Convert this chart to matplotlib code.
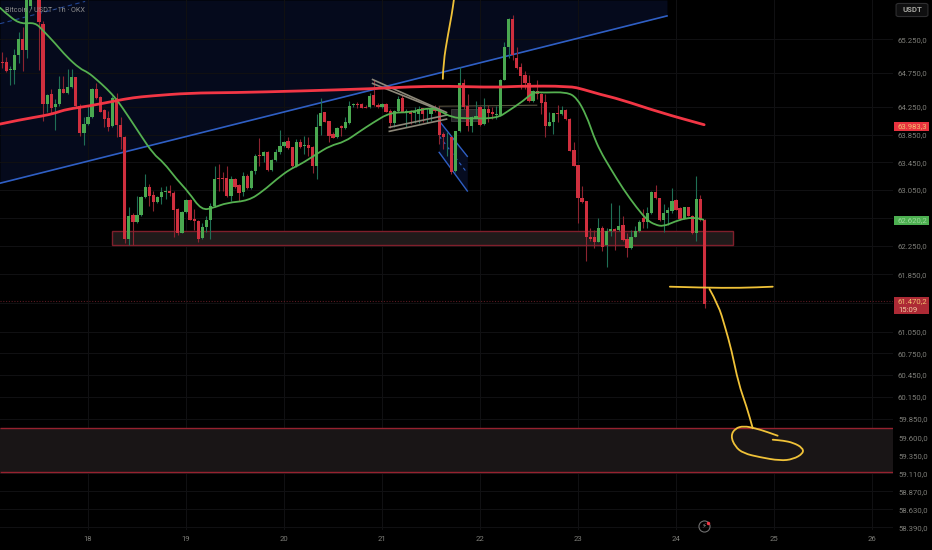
import numpy as np
import matplotlib
matplotlib.use('Agg')
import matplotlib.pyplot as plt
from matplotlib.patches import Rectangle, FancyBboxPatch, PathPatch
from matplotlib.path import Path

plt.rcParams['font.family'] = ['Roboto', 'DejaVu Sans']

#%% data: hourly candles, hour 0 is the start of day 18
first_hour = -21
opens = [64916,64916,64790,64800,65018,65259,65090,65742,66008,65873,65477,64293,64437,64259,64293,64510,64452,64549,64694,64268,
         63872,64003,64099,64510,64399,64205,64085,63969,64389,63988,63819,62354,62688,62586,62698,62949,63099,62973,62881,62954,
         63021,63036,63002,62780,62441,62736,62905,62635,62601,62359,62519,62625,62818,63215,63220,63229,62963,63205,63118,63021,
         63253,63084,63326,63553,63534,63601,63336,63485,63592,63679,63756,63664,63398,63746,63688,63703,63664,63398,63969,64172,
         64046,63858,63819,63978,63945,64017,64278,64302,64302,64259,64254,64423,64288,64259,64302,64191,64017,64196,64384,64181,
         64196,64162,64148,64235,64205,64148,64235,64210,63858,63824,63809,63321,63896,64597,64268,63978,64090,64254,64003,64220,
         64172,64138,64138,64655,65138,65559,64969,64834,64728,64607,64341,64481,64442,64326,63978,64036,64162,64148,64210,64075,
         63626,63408,62939,62886,62383,62374,62311,62504,62263,62470,62490,62480,62548,62345,62224,62383,62466,62649,62591,62722,
         63021,62939,62625,62722,62746,62901,62785,62649,62804,62683,62441,62925,62625]
highs = [65066,64993,64858,65100,65356,65438,66032,66040,66050,65950,65525,64437,64510,64365,64703,64703,64810,64810,64694,64293,
         64099,64268,64534,64607,64413,64220,64196,64413,64462,64099,63833,62809,62722,62963,62963,63278,63133,63036,62963,63099,
         63108,63118,63036,62794,62746,62915,62915,62780,62625,62577,62683,62867,63398,63423,63302,63398,63253,63215,63133,63302,
         63278,63336,63568,63795,63616,63616,63495,63640,63920,63761,63809,63664,63785,63785,63833,63809,63688,64148,64380,64181,
         64051,63882,63954,63988,64099,64341,64317,64326,64317,64278,64462,64655,64307,64307,64307,64220,64205,64413,64423,64220,
         64205,64259,64268,64244,64230,64259,64283,64268,63882,63882,63819,63906,64839,64665,64437,64114,64341,64268,64389,64278,
         64259,64268,64665,65211,65564,65612,65138,64897,64776,64728,64500,64655,64452,64437,64172,64162,64278,64268,64220,64085,
         63737,63408,63108,62896,62504,62480,62649,62528,62504,62857,62504,62828,62683,62441,62480,62538,62625,62780,62809,63036,
         63118,62939,62843,62809,63075,62925,62809,62809,62809,62698,63253,62973,62635]
lows = [64824,64771,64568,64583,64897,64776,64969,65694,65850,64800,64051,64172,64148,63920,64268,64452,64437,64534,64259,63833,
        63703,63988,64085,64375,64172,63954,63906,63954,63809,63640,62287,62263,62263,62577,62673,62939,62818,62746,62867,62843,
        62915,62963,62383,62408,62432,62722,62615,62480,62301,62350,62456,62350,62809,63036,63036,62954,62891,63084,62891,62963,
        63060,63070,63278,63398,63447,63326,63326,63471,63568,63664,63640,63384,63384,63655,63568,63543,63292,63205,63843,64027,
        63746,63795,63804,63833,63930,64003,64259,64244,64230,64230,64244,64268,64230,64230,64172,63940,63954,64172,64172,63954,
        64003,64017,64017,64036,64017,64051,64172,63713,63640,63543,63278,63311,63882,64220,63896,63882,64085,63978,63988,64027,
        64075,64075,64123,64645,64969,64945,64810,64520,64520,64326,64326,64365,64148,63819,63978,63858,64036,64138,64061,63606,
        63389,62577,62867,62045,62325,62229,62301,62180,61948,62393,62200,62470,62325,62093,62214,62374,62456,62504,62504,62712,
        62915,62601,62456,62553,62722,62760,62615,62635,62673,62422,62325,62601,61378]
closes = [64906,64781,64810,65018,65259,65090,65960,66008,65873,65501,64293,64428,64244,64293,64510,64452,64549,64694,64268,63872,
          64003,64099,64510,64389,64186,64075,63954,64389,63988,63819,62354,62683,62596,62698,62949,63094,62963,62881,62954,63026,
          63036,63002,62770,62432,62736,62905,62625,62601,62354,62519,62625,62818,63205,63205,63205,62963,63205,63099,63012,63253,
          63084,63326,63543,63534,63601,63336,63485,63592,63679,63746,63655,63398,63746,63664,63703,63655,63398,63954,64162,64036,
          63833,63804,63945,63945,64027,64268,64293,64288,64244,64244,64413,64278,64254,64293,64181,64017,64196,64375,64181,64196,
          64148,64172,64220,64148,64215,64220,64196,63843,63814,63833,63311,63896,64597,64259,63978,64099,64123,63993,64220,64157,
          64148,64148,64655,65138,65559,65018,64824,64713,64597,64341,64481,64437,64317,63978,64036,64157,64148,64205,64075,63616,
          63398,62939,62881,62374,62350,62311,62504,62238,62470,62490,62470,62538,62335,62224,62383,62466,62596,62586,62722,63021,
          62930,62625,62722,62756,62891,62770,62640,62804,62683,62441,62915,62615,61441]

# moving averages, sampled where the curve bends
ma_green_hours = [-21.5,-19,-16.25,-13,-11,-8,-5.25,-2,0,2.1,4.6,7,9.9,12.7,16,18.5,21.7,24.6,27.8,30.7,34,39.3,42.9,46.2,49.5,
                  51.9,56,59.3,62.9,66.2,69.9,74,78.9,83.8,86.2,89.1,92.7,100.1,103,106.6,109.1,111.5,117.2,119.7,122.1,123.8,
                  125.4,127.8,131.1,134.4,137,138.9,140.9,143.8,146.6,149.1,150.7]
ma_green = [65718,65573,65477,65501,65380,65187,64993,64815,64761,64655,64520,64365,64114,63858,63568,63447,63205,63021,62760,62794,
            62867,62896,63036,63205,63350,63413,63568,63688,63746,63882,64027,64172,64172,64244,64196,64099,64085,64085,64196,64341,
            64471,64462,64471,64389,64123,63833,63616,63374,63060,62794,62615,62553,62528,62601,62649,62649,62625]
ma_red_hours = [-21.55,-16.65,-10.9,-8.1,-5.2,0.5,6.6,11.1,15.2,25,35.6,51.9,69.9,78.9,87.8,100.1,105,118,121.3,125.4,130.3,140.1,150.9]
ma_red = [64003,64065,64123,64162,64220,64268,64341,64389,64413,64457,64462,64486,64520,64549,64558,64539,64558,64558,64510,64437,64365,64172,63993]

# drawings on the chart
channel_hours = [-21.55, 141.8]
channel_low = [63147, 65598]
channel_mid_hours = [-21.55, -0.7]
channel_mid = [65482, 65815]
zone1_hours = [5.9, 158]
zone1_prices = [62263, 62465]
zone2_prices = [59130, 59724]
triangle_lines = [([69.7,87.8],[64655,64172]), ([69.7,86.6],[64597,64195]), ([73.8,87.8],[63955,64133]), ([73.8,87.8],[63897,64075])]
flag_hours = [86, 92.9]
flag_top = [64050, 63534]
flag_mid = [63829, 63292]
flag_bot = [63592, 63035]
yellow_up_hours = [86.9,87,88.2,89.1,89.6]
yellow_up = [64665,64897,65332,65622,65836]
yellow_flat_hours = [142.5,150.6,159.7,167.7]
yellow_flat = [61677,61663,61659,61677]
yellow_down_hours = [152.2,154.4,156,157.6,159.3,161.3,162.8]
yellow_down = [61645,61421,61118,60794,60335,60015,59721]
yellow_loop_hours = [168.9,166.2,163.4,160.6,158.5,157.4,158.5,160.5,164.6,169.5,172.7,175.2,175,172.7,170.3,167.7]
yellow_loop = [59620,59674,59721,59752,59721,59616,59471,59382,59328,59282,59301,59382,59457,59525,59553,59566]

last_price = 61470.2
day_labels = ['18','19','20','21','22','23','24','25','26']
price_ticks = [65250,64750,64250,63850,63450,63050,62650,62250,61850,61450,61050,60750,60450,60150,59850,59600,59350,59110,58870,58630,58390]
hidden_ticks = [62650, 61450]   # sit under the price tags


def smooth_line(ax, xs, ys, **kw):
    # quadratic curve through the midpoints, the read values are the control points
    pts = list(zip(xs, ys))
    verts = [pts[0]]
    codes = [Path.MOVETO]
    for a, b in zip(pts[1:-1], pts[2:]):
        verts += [a, ((a[0]+b[0])/2, (a[1]+b[1])/2)]
        codes += [Path.CURVE3, Path.CURVE3]
    verts.append(pts[-1])
    codes.append(Path.LINETO)
    ax.add_patch(PathPatch(Path(verts, codes), fc='none', capstyle='round', joinstyle='round', **kw))


#%% chart
W, H = 932, 550
fig = plt.figure(figsize=(W/100, H/100), dpi=100, facecolor='black')
ax = fig.add_axes([0, 1-530/H, 893/W, 530/H], facecolor='black')
ax.set_yscale('log')
ax.set_xlim(-21.55, 197.15)
ax.set_ylim(58354, 65836)

# grid and axes
ax.set_yticks(price_ticks)
ax.set_yticklabels(['' if p in hidden_ticks else f'{p:,}'.replace(',', '.') + ',0' for p in price_ticks])
ax.yaxis.set_minor_locator(matplotlib.ticker.NullLocator())
ax.yaxis.tick_right()
ax.set_xticks(np.arange(9)*24)
ax.set_xticklabels(day_labels)
ax.tick_params(axis='both', length=0, colors='#7d7d78', labelsize=5.6)
ax.tick_params(axis='y', pad=3.6)
ax.tick_params(axis='x', pad=4.5)
ax.grid(True, color='#101012', lw=0.8)
ax.set_axisbelow(True)
for s in ax.spines.values():
    s.set_visible(False)

# channel
ax.fill_between(channel_hours, channel_low, 65836, color='#050a1c', lw=0, zorder=0.4)
ax.plot(channel_hours, channel_low, color='#2f5fc4', lw=1.2, zorder=2)
ax.plot(channel_mid_hours, channel_mid, color='#2f5fc4', lw=0.8, ls=(0, (4, 3)), alpha=0.7, zorder=2)

# demand zones
zone_col = '#7f1f2b'
ax.add_patch(Rectangle((zone1_hours[0], zone1_prices[0]), zone1_hours[1]-zone1_hours[0], zone1_prices[1]-zone1_prices[0],
                       fc='#201a1a', ec=zone_col, lw=1, zorder=2))
ax.fill_between([-21.55, 197.15], zone2_prices[0], zone2_prices[1], color='#191516', lw=0, zorder=2)
ax.hlines(zone2_prices, -21.55, 197.15, color='#96222f', lw=1, zorder=2)
ax.axhline(last_price, color='#5a1a22', lw=0.8, ls=(0, (1, 1.5)), zorder=2)

# flag and triangle behind the candles
ax.fill_between(flag_hours, flag_bot, flag_top, color='#060c20', lw=0, zorder=2)
ax.plot(flag_hours, flag_top, color='#2f5fc4', lw=1, zorder=2.5)
ax.plot(flag_hours, flag_bot, color='#2f5fc4', lw=1, zorder=2.5)
ax.plot(flag_hours, flag_mid, color='#2f5fc4', lw=0.8, ls=(0, (3, 3)), zorder=2.5)
ax.plot([86, 109.9], [64263, 64278], color='#57523f', lw=0.8, zorder=2.5)
ax.add_patch(Rectangle((88.9, 64046), 6.6, 181, fc='#26262a', ec='#3c3c3c', lw=0.6, zorder=2.2))

# candles
hours = first_hour + np.arange(len(opens))
opens, highs, lows, closes = map(np.array, (opens, highs, lows, closes))
up = closes >= opens
for mask, body, wick in ((up, '#4aa850', '#1f6f55'), (~up, '#cf2f3e', '#8c2430')):
    ax.vlines(hours[mask], lows[mask], highs[mask], color=wick, lw=0.8, zorder=3)
    ax.bar(hours[mask], np.abs(closes-opens)[mask], bottom=np.minimum(opens, closes)[mask], width=0.8,
           color=body, lw=0, zorder=3.2)

for xs, ys in triangle_lines:
    ax.plot(xs, ys, color='#8d8879', lw=1.2, zorder=3.5)

# moving averages
smooth_line(ax, ma_green_hours, ma_green, ec='#55b050', lw=1.3, zorder=4)
smooth_line(ax, ma_red_hours, ma_red, ec='#f23645', lw=2, zorder=4.2)

# hand drawn
for xs, ys in ((yellow_up_hours, yellow_up), (yellow_flat_hours, yellow_flat),
               (yellow_down_hours, yellow_down), (yellow_loop_hours, yellow_loop)):
    smooth_line(ax, xs, ys, ec='#f0c238', lw=1.3, zorder=5)

#%% things outside the price scale, placed in figure pixels
def fx(x):
    return x / W
def fy(y):
    return 1 - y / H

def tag(y0, y1, color):
    fig.add_artist(Rectangle((fx(894), fy(y1)), 35/W, (y1-y0)/H, fc=color, ec='none', transform=fig.transFigure, zorder=10))

tag(122, 131, '#e8323f')
tag(216, 225, '#4caf50')
tag(297, 314, '#ad2a35')
fig.text(fx(898), fy(126.5), '63.983,3', color='#f0c070', fontsize=5.6, va='center', zorder=11)
fig.text(fx(898), fy(220.5), '62.620,2', color='#9ad89a', fontsize=5.6, va='center', zorder=11)
fig.text(fx(898), fy(301.5), '61.470,2', color='#f0c070', fontsize=5.6, va='center', zorder=11)
fig.text(fx(898), fy(309.5), '15:09', color='#f0c8a0', fontsize=5.6, va='center', zorder=11)

fig.add_artist(FancyBboxPatch((fx(897), fy(16)), 30/W, 12/H, boxstyle='round,pad=0.001,rounding_size=0.003', fc='#0f0f10', ec='#2e2e30',
                              lw=0.8, transform=fig.transFigure, zorder=10))
fig.text(fx(912), fy(10), 'USDT', color='#a5a5a0', fontsize=5.6, ha='center', va='center', fontweight='bold', zorder=11)
fig.text(fx(5), fy(9.5), 'Bitcoin / USDT · 1h · OKX', color='#8c8c8c', fontsize=5.2, va='center', zorder=11)

fig.add_artist(plt.Line2D([fx(704)], [fy(526)], marker='o', ms=8, mfc='none', mec='#6f6f6f', mew=0.8, transform=fig.transFigure, zorder=10))
fig.text(fx(704), fy(526), '⚡', color='#8f8f8f', fontsize=5, ha='center', va='center', family='DejaVu Sans', zorder=11)
fig.add_artist(plt.Line2D([fx(708)], [fy(522.5)], marker='o', ms=2.5, mfc='#f23645', mec='none', transform=fig.transFigure, zorder=11))

plt.savefig('out.png', dpi=100, facecolor='black')
